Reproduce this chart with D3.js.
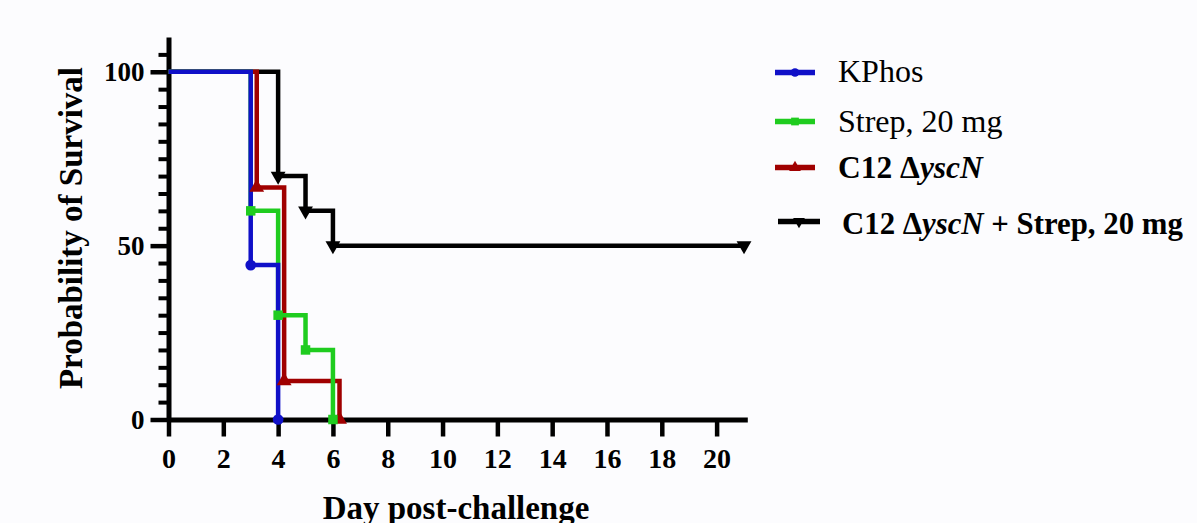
<!DOCTYPE html>
<html>
<head>
<meta charset="utf-8">
<script src="https://cdn.jsdelivr.net/npm/d3@7"></script>
<style>
  body { margin: 0; background: #fcfcfe; }
  svg { display: block; }
  text { font-family: "Liberation Serif", "Times New Roman", serif; fill: #000; }
</style>
</head>
<body>
<script>
// data
var seriesNames = ["KPhos", "Strep, 20 mg", "C12 ΔyscN", "C12 ΔyscN + Strep, 20 mg"];
var kphosDays = [0, 3, 4];
var kphosSurv = [100, 44.4, 0];
var strepDays = [0, 3, 4, 5, 6];
var strepSurv = [100, 60, 30, 20, 0];
var c12Days = [0, 3.22, 4.22, 6.24];
var c12Surv = [100, 66.7, 11.1, 0];
var comboDays = [0, 4, 5, 6, 21];
var comboSurv = [100, 70, 60, 50, 50];
var xTicks = [0, 2, 4, 6, 8, 10, 12, 14, 16, 18, 20];
var yTicks = [0, 50, 100];

const WIDTH = 1197, HEIGHT = 523;

var svg = d3.select("body").append("svg")
    .attr("width", WIDTH)
    .attr("height", HEIGHT);

var x = d3.scaleLinear().domain([0, 21.12]).range([168.5, 747.3]);
var y = d3.scaleLinear().domain([0, 110]).range([419.5, 37]);

/* series, drawn bottom to top */
var series = [
  {name: seriesNames[3], days: comboDays, surv: comboSurv, color: "#000000", sym: d3.symbolTriangle, rot: 180},
  {name: seriesNames[2], days: c12Days, surv: c12Surv, color: "#a00000", sym: d3.symbolTriangle, rot: 0},
  {name: seriesNames[1], days: strepDays, surv: strepSurv, color: "#1fcc1f", sym: d3.symbolSquare, rot: 0},
  {name: seriesNames[0], days: kphosDays, surv: kphosSurv, color: "#1010c8", sym: d3.symbolCircle, rot: 0}
];
var symSize = function(s) { return s === d3.symbolCircle ? 90 : s === d3.symbolSquare ? 90 : 95; };

// axes
var xAxis = svg.append("g")
    .attr("transform", "translate(0," + y(0) + ")")
    .call(d3.axisBottom(x).tickValues(xTicks).tickSize(17).tickSizeOuter(0).tickFormat(d3.format("d")));
xAxis.select(".domain").attr("stroke-width", 5);
xAxis.selectAll(".tick line").attr("stroke-width", 4.5);
xAxis.selectAll(".tick text")
    .attr("y", 29).attr("dy", "0.71em")
    .style("font-family", "Liberation Serif").style("font-weight", "bold").style("font-size", "28px");

var yMinor = d3.range(5, 110, 5).filter(d => d % 50 !== 0);
svg.append("g")
    .attr("transform", "translate(" + x(0) + ",0)")
    .call(d3.axisLeft(y).tickValues(yMinor).tickSize(10).tickSizeOuter(0).tickFormat(""))
    .call(g => g.select(".domain").remove())
    .selectAll(".tick line").attr("stroke-width", 4);

var yAxis = svg.append("g")
    .attr("transform", "translate(" + x(0) + ",0)")
    .call(d3.axisLeft(y).tickValues(yTicks).tickSize(18).tickSizeOuter(0));
yAxis.select(".domain").attr("stroke-width", 5);
yAxis.selectAll(".tick line").attr("stroke-width", 4.5);
yAxis.selectAll(".tick text")
    .attr("x", -24)
    .style("font-family", "Liberation Serif").style("font-weight", "bold").style("font-size", "27px");

// survival curves
var line = d3.line().x(d => x(d[0])).y(d => y(d[1])).curve(d3.curveStepAfter);

series.forEach(function(s) {
  var pts = s.days.map((d, i) => [d, s.surv[i]]);
  svg.append("path")
      .datum(pts)
      .attr("fill", "none")
      .attr("stroke", s.color)
      .attr("stroke-width", 4.5)
      .attr("d", line);
});
series.forEach(function(s) {
  var pts = s.days.map((d, i) => [d, s.surv[i]]).slice(1);
  svg.selectAll(null)
      .data(pts)
      .enter().append("path")
      .attr("d", d3.symbol().type(s.sym).size(symSize(s.sym)))
      .attr("fill", s.color)
      .attr("transform", d => "translate(" + x(d[0]) + "," + y(d[1]) + ") rotate(" + s.rot + ")");
});

// axis titles
svg.append("text")
    .attr("x", 456).attr("y", 519)
    .attr("text-anchor", "middle")
    .style("font-weight", "bold").style("font-size", "33px")
    .text("Day post-challenge");

svg.append("text")
    .attr("transform", "translate(82,228) rotate(-90)")
    .attr("text-anchor", "middle")
    .style("font-weight", "bold").style("font-size", "33px")
    .text("Probability of Survival");

// legend
var legendRows = [
  {s: series[3], ly: 72.5, tx: 838, ty: 81.5, x0: 775, x1: 815, bold: false, fs: 32},
  {s: series[2], ly: 121.5, tx: 838, ty: 131.5, x0: 775, x1: 815, bold: false, fs: 32},
  {s: series[1], ly: 167.5, tx: 838, ty: 178, x0: 775, x1: 815, bold: true, fs: 31.5},
  {s: series[0], ly: 221.5, tx: 842, ty: 234, x0: 778, x1: 820, bold: true, fs: 30.8}
];
var legend = svg.append("g");
legendRows.forEach(function(r) {
  legend.append("line")
      .attr("x1", r.x0).attr("x2", r.x1).attr("y1", r.ly).attr("y2", r.ly)
      .attr("stroke", r.s.color).attr("stroke-width", 5.5);
  legend.append("path")
      .attr("d", d3.symbol().type(r.s.sym).size(60))
      .attr("fill", r.s.color)
      .attr("transform", "translate(" + (r.x0 + r.x1) / 2 + "," + r.ly + ") rotate(" + r.s.rot + ")");
  var t = legend.append("text")
      .attr("x", r.tx).attr("y", r.ty)
      .style("font-size", r.fs + "px")
      .style("font-weight", r.bold ? "bold" : "normal");
  var m = r.s.name.match(/^(C12 Δ)(yscN)(.*)$/);
  if (m) {
    t.append("tspan").text(m[1]);
    t.append("tspan").style("font-style", "italic").text(m[2]);
    if (m[3]) t.append("tspan").text(m[3]);
  } else {
    t.text(r.s.name);
  }
});
</script>
</body>
</html>
